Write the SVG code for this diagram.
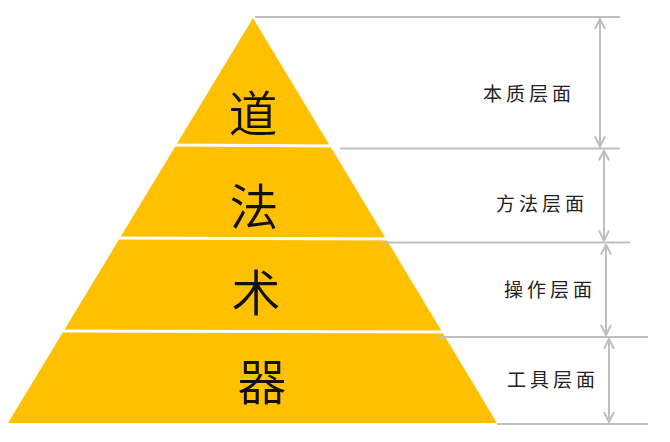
<svg xmlns="http://www.w3.org/2000/svg" width="670" height="442" viewBox="0 0 670 442">
<style>
.layer{fill:#FFC000}
.sep{stroke:#FFFFFF;stroke-width:3}
.big{font-family:"Noto Sans CJK SC","Noto Sans CJK JP",sans-serif;font-size:49px;fill:#111;text-anchor:middle;dominant-baseline:central;font-weight:350}
.lbl{font-family:"Noto Sans CJK SC","Noto Sans CJK JP",serif;font-size:19px;letter-spacing:4px;fill:#222;text-anchor:middle;dominant-baseline:central;font-weight:400}
.guide{stroke:#BFBFBF;stroke-width:2;fill:none}
.dim{stroke:#BFBFBF;stroke-width:2;fill:none;marker-start:url(#arr);marker-end:url(#arr)}
</style>
<defs>
<marker id="arr" viewBox="0 0 12 12" refX="11" refY="6" markerWidth="12" markerHeight="12" markerUnits="userSpaceOnUse" orient="auto-start-reverse">
<path d="M1,1 L11,6 L1,11" fill="none" stroke="#BFBFBF" stroke-width="2"/>
</marker>
</defs>
<rect width="670" height="442" fill="#FFFFFF"/>
<g id="pyramid">
<polygon class="layer" points="253,18 497,423 8,423"/>
<line class="sep" x1="170" y1="145" x2="340" y2="146"/>
<line class="sep" x1="115" y1="238" x2="395" y2="239"/>
<line class="sep" x1="58" y1="331" x2="450" y2="332"/>
</g>
<g id="node-dao"><text class="big" x="253" y="110">道</text></g>
<g id="node-fa"><text class="big" x="254" y="203">法</text></g>
<g id="node-shu"><text class="big" x="256" y="289">术</text></g>
<g id="node-qi"><text class="big" x="262" y="378">器</text></g>
<g id="guides">
<line class="guide" x1="255" y1="17" x2="620" y2="17"/>
<line class="guide" x1="340" y1="148.5" x2="620" y2="148.5"/>
<line class="guide" x1="382" y1="242.5" x2="630" y2="242.5"/>
<line class="guide" x1="440" y1="337" x2="648" y2="337"/>
<line class="guide" x1="497" y1="424" x2="648" y2="424"/>
</g>
<g id="connectors">
<line class="dim" x1="600" y1="19" x2="600" y2="146.5"/>
<line class="dim" x1="604" y1="150.5" x2="604" y2="240.5"/>
<line class="dim" x1="606" y1="244.5" x2="606" y2="335"/>
<line class="dim" x1="609" y1="339" x2="609" y2="422"/>
</g>
<g id="label-benzhi"><text class="lbl" x="529" y="92">本质层面</text></g>
<g id="label-fangfa"><text class="lbl" x="542" y="202">方法层面</text></g>
<g id="label-caozuo"><text class="lbl" x="550" y="288">操作层面</text></g>
<g id="label-gongju"><text class="lbl" x="553" y="378">工具层面</text></g>
</svg>
